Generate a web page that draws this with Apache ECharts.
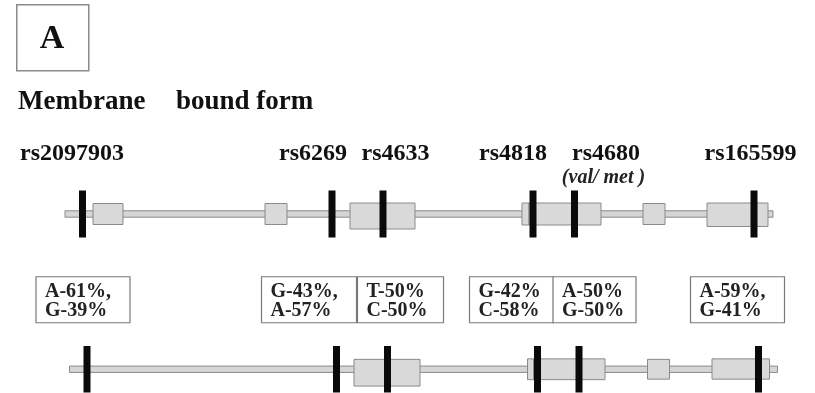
<!DOCTYPE html>
<html>
<head>
<meta charset="utf-8">
<script src="https://cdn.jsdelivr.net/npm/echarts@6/dist/echarts.min.js"></script>
<style>
  html, body { margin: 0; padding: 0; background: #fff; }
  #chart { width: 815px; height: 393px; }
</style>
</head>
<body>
<div id="chart"></div>
<script>
// Positions along the transcript, in relative units (0 = start of the drawn line)
const geneLength = 708;
const snpNames = ['rs2097903', 'rs6269', 'rs4633', 'rs4818', 'rs4680', 'rs165599'];
const snpPositions = [17.5, 267, 318, 468, 509.5, 689];
const snpNotes = ['', '', '', '', '(val/ met )', ''];
const alleleLine1 = ['A-61%,', 'G-43%,', 'T-50%', 'G-42%', 'A-50%', 'A-59%,'];
const alleleLine2 = ['G-39%', 'A-57%', 'C-50%', 'C-58%', 'G-50%', 'G-41%'];

// Exons: [start, end, lower edge, upper edge]
const membraneExons = [
  [28, 58, -10.5, 10.5],
  [200, 222, -10.5, 10.5],
  [285, 350, -15, 11],
  [457, 464, -11, 11],
  [464, 536, -11, 11],
  [578, 600, -10.5, 10.5],
  [642, 703, -12.5, 11]
];
const lowerExons = [
  [284.5, 350.5, -17, 10],
  [458, 464, -10.5, 10.5],
  [464, 535.5, -10.5, 10.5],
  [578, 600, -10, 10],
  [642.5, 700, -10, 10.5]
];

// Layout of the labels (pixel offsets from each SNP), kept apart from the data
const nameOffsetX = [-10.5, -19, 12.5, -20, 31.5, -3.5];
const noteOffsetX = [0, 0, 0, 0, 29, 0];
const boxLeft = [-51, -75, -30, -68, -26, -68];
const boxWidth = [94, 95, 86, 84, 83, 94];

const SERIF = '"Liberation Serif", "Times New Roman", serif';
const EXON_FILL = '#d9d9d9';
const EXON_STROKE = '#8a8a8a';

function lineItem(params, api) {
  const a = api.coord([api.value(0), 3.2]);
  const b = api.coord([api.value(1), -3.2]);
  return {
    type: 'rect',
    shape: { x: a[0], y: a[1], width: b[0] - a[0], height: b[1] - a[1] },
    style: { fill: '#d6d6d6', stroke: EXON_STROKE, lineWidth: 1 }
  };
}

function exonItem(params, api) {
  const a = api.coord([api.value(0), api.value(3)]);
  const b = api.coord([api.value(1), api.value(2)]);
  return {
    type: 'rect',
    shape: { x: a[0], y: a[1], width: b[0] - a[0], height: b[1] - a[1] },
    style: { fill: EXON_FILL, stroke: EXON_STROKE, lineWidth: 1 }
  };
}

function snpBarItem(params, api) {
  const t = api.coord([api.value(0), 23.5]);
  const b = api.coord([api.value(0), -23.5]);
  return {
    type: 'rect',
    shape: { x: t[0] - 3.5, y: t[1], width: 7, height: b[1] - t[1] },
    style: { fill: '#0a0a0a' }
  };
}

function snpNameItem(params, api) {
  const i = params.dataIndex;
  const c = api.coord([api.value(0), 0]);
  const children = [{
    type: 'text',
    style: {
      x: c[0] + nameOffsetX[i], y: c[1] - 60,
      text: snpNames[i], fill: '#111',
      font: 'bold 24px ' + SERIF,
      align: 'center', verticalAlign: 'middle'
    }
  }];
  if (snpNotes[i]) {
    children.push({
      type: 'text',
      style: {
        x: c[0] + noteOffsetX[i], y: c[1] - 36,
        text: snpNotes[i], fill: '#222',
        font: 'italic bold 20px ' + SERIF,
        align: 'center', verticalAlign: 'middle'
      }
    });
  }
  return { type: 'group', children: children };
}

function freqBoxItem(params, api) {
  const i = params.dataIndex;
  const c = api.coord([api.value(0), 0]);
  const x = c[0] + boxLeft[i];
  const y = c[1] - 92.5;
  return {
    type: 'group',
    children: [
      {
        type: 'rect',
        shape: { x: x, y: y, width: boxWidth[i], height: 46 },
        style: { fill: '#fff', stroke: '#7a7a7a', lineWidth: 1.2 }
      },
      {
        type: 'text',
        style: {
          x: x + 9, y: y + 15, text: alleleLine1[i], fill: '#222',
          font: 'bold 20px ' + SERIF, align: 'left', verticalAlign: 'middle'
        }
      },
      {
        type: 'text',
        style: {
          x: x + 9, y: y + 34, text: alleleLine2[i], fill: '#222',
          font: 'bold 20px ' + SERIF, align: 'left', verticalAlign: 'middle'
        }
      }
    ]
  };
}

const chart = echarts.init(document.getElementById('chart'), null, { renderer: 'canvas' });

const hiddenX = (idx) => ({ type: 'value', gridIndex: idx, min: 0, max: geneLength, show: false });
const hiddenY = (idx) => ({ type: 'value', gridIndex: idx, min: -24, max: 24, show: false });

chart.setOption({
  animation: false,
  backgroundColor: '#fff',
  grid: [
    { left: 65, width: geneLength, top: 190, height: 48 },
    { left: 69.5, width: geneLength, top: 345.5, height: 48 }
  ],
  xAxis: [hiddenX(0), hiddenX(1)],
  yAxis: [hiddenY(0), hiddenY(1)],
  graphic: [
    {
      type: 'rect', left: 16, top: 4,
      shape: { width: 72, height: 66 },
      style: { fill: '#fff', stroke: '#8a8a8a', lineWidth: 1.5 }
    },
    {
      type: 'text', x: 52, y: 39,
      style: { text: 'A', font: 'bold 34px ' + SERIF, fill: '#111', align: 'center', verticalAlign: 'middle' }
    },
    {
      type: 'text', x: 18, y: 102,
      style: { text: 'Membrane', font: 'bold 27px ' + SERIF, fill: '#111', align: 'left', verticalAlign: 'middle' }
    },
    {
      type: 'text', x: 176, y: 102,
      style: { text: 'bound form', font: 'bold 27px ' + SERIF, fill: '#111', align: 'left', verticalAlign: 'middle' }
    }
  ],
  series: [
    { type: 'custom', xAxisIndex: 0, yAxisIndex: 0, renderItem: lineItem, data: [[0, geneLength]], silent: true },
    { type: 'custom', xAxisIndex: 0, yAxisIndex: 0, renderItem: exonItem, data: membraneExons, encode: { x: [0, 1], y: [2, 3] }, silent: true },
    { type: 'custom', xAxisIndex: 0, yAxisIndex: 0, renderItem: snpBarItem, data: snpPositions.map(p => [p]), silent: true },
    { type: 'custom', xAxisIndex: 0, yAxisIndex: 0, renderItem: snpNameItem, data: snpPositions.map(p => [p]), silent: true },

    { type: 'custom', xAxisIndex: 1, yAxisIndex: 1, renderItem: lineItem, data: [[0, geneLength]], silent: true },
    { type: 'custom', xAxisIndex: 1, yAxisIndex: 1, renderItem: exonItem, data: lowerExons, encode: { x: [0, 1], y: [2, 3] }, silent: true },
    { type: 'custom', xAxisIndex: 1, yAxisIndex: 1, renderItem: snpBarItem, data: snpPositions.map(p => [p]), silent: true },
    { type: 'custom', xAxisIndex: 1, yAxisIndex: 1, renderItem: freqBoxItem, data: snpPositions.map(p => [p]), silent: true }
  ]
});
</script>
</body>
</html>
